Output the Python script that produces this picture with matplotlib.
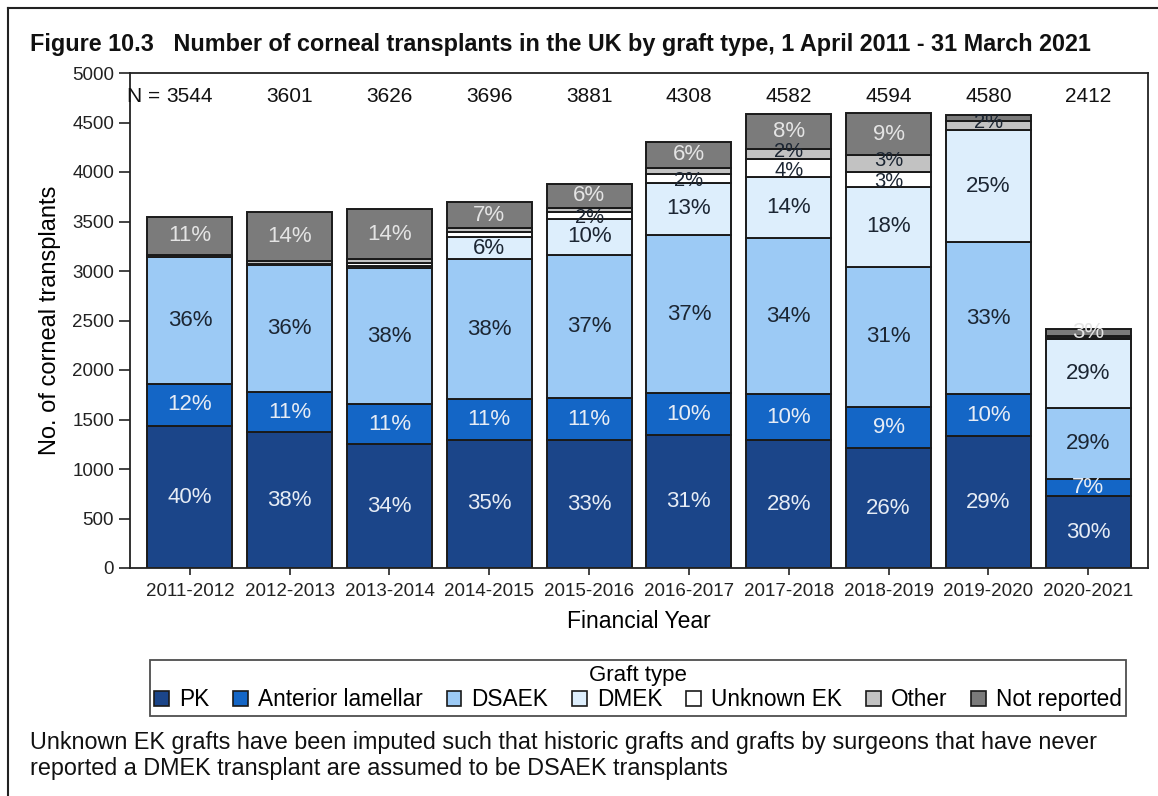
import matplotlib
matplotlib.use("Agg")
import matplotlib.pyplot as plt
from matplotlib.patches import Patch
from matplotlib.lines import Line2D
import numpy as np

plt.rcParams['font.family'] = ['Liberation Sans', 'DejaVu Sans']

years = ["2011-2012", "2012-2013", "2013-2014", "2014-2015", "2015-2016",
         "2016-2017", "2017-2018", "2018-2019", "2019-2020", "2020-2021"]
totals = [3544, 3601, 3626, 3696, 3881, 4308, 4582, 4594, 4580, 2412]

pk      = [1434, 1372, 1250, 1294, 1290, 1340, 1290, 1210, 1330, 727]
ant_lam = [425, 404, 405, 410, 430, 428, 465, 416, 428, 169]
dsaek   = [1282, 1280, 1375, 1415, 1440, 1595, 1578, 1418, 1530, 720]
dmek    = [0, 5, 20, 222, 370, 530, 620, 801, 1135, 694]
unk_ek  = [5, 5, 30, 55, 70, 85, 175, 158, 5, 10]
other   = [20, 30, 38, 35, 40, 60, 100, 169, 90, 25]
not_rep = [378, 505, 508, 265, 241, 270, 354, 422, 62, 67]

lab_pk      = ["40%", "38%", "34%", "35%", "33%", "31%", "28%", "26%", "29%", "30%"]
lab_ant_lam = ["12%", "11%", "11%", "11%", "11%", "10%", "10%", "9%", "10%", "7%"]
lab_dsaek   = ["36%", "36%", "38%", "38%", "37%", "37%", "34%", "31%", "33%", "29%"]
lab_dmek    = ["", "", "", "6%", "10%", "13%", "14%", "18%", "25%", "29%"]
lab_unk_ek  = ["", "", "", "", "2%", "2%", "4%", "3%", "", ""]
lab_other   = ["", "", "", "", "", "", "2%", "3%", "2%", ""]
lab_not_rep = ["11%", "14%", "14%", "7%", "6%", "6%", "8%", "9%", "", "3%"]

names = ["PK", "Anterior lamellar", "DSAEK", "DMEK", "Unknown EK", "Other", "Not reported"]
series = [pk, ant_lam, dsaek, dmek, unk_ek, other, not_rep]
labels = [lab_pk, lab_ant_lam, lab_dsaek, lab_dmek, lab_unk_ek, lab_other, lab_not_rep]
colors = ["#1b4589", "#1466c6", "#9ccaf5", "#ddeefc", "#ffffff", "#c2c2c2", "#7b7b7b"]
txt_colors = ["#e6ecf5", "#e6ecf5", "#1c2633", "#1c2633", "#1c2633", "#1c2633", "#e4e4e4"]
txt_sizes = [16, 16, 16, 16, 14.5, 14.5, 16]
txt_nudge = [0, 0, 0, 0, -25, 25, 0]

fig = plt.figure(figsize=(11.58, 7.96), dpi=100)
ax = fig.add_axes([130/1158, 1-568/796, (1148-130)/1158, (568-73)/796])

x = np.arange(len(years))
bottom = np.zeros(len(years))
for vals, col in zip(series, colors):
    v = np.array(vals, dtype=float)
    ax.bar(x, v, width=0.85, bottom=bottom, color=col, edgecolor="#1a1a1a",
           linewidth=1.4, zorder=2)
    bottom += v

bottom = np.zeros(len(years))
for vals, labs, tc, fs, nd in zip(series, labels, txt_colors, txt_sizes, txt_nudge):
    v = np.array(vals, dtype=float)
    for i in range(len(years)):
        if labs[i]:
            ax.text(x[i], bottom[i] + v[i] / 2 + nd, labs[i], ha="center", va="center",
                    fontsize=fs, color=tc, zorder=3)
    bottom += v

for i, n in enumerate(totals):
    ax.text(x[i], 4760, str(n), ha="center", va="center", fontsize=15, color="#111111")
ax.text(x[0] - 0.24, 4760, "N = ", ha="right", va="center", fontsize=15, color="#111111")

ax.set_xlim(-0.6, 9.6)
ax.set_ylim(0, 5000)
ax.set_yticks(np.arange(0, 5001, 500))
ax.set_xticks(x)
ax.set_xticklabels(years)
ax.tick_params(axis="both", labelsize=13.5, colors="#222222", length=8, width=1.2)
ax.tick_params(axis="x", length=5, pad=6)
for s in ax.spines.values():
    s.set_linewidth(1.3)
    s.set_color("#222222")
ax.set_ylabel("No. of corneal transplants", fontsize=17, labelpad=8)
ax.set_xlabel("Financial Year", fontsize=16.5, labelpad=7)

handles = [Patch(facecolor=c, edgecolor="#1a1a1a", linewidth=1.2) for c in colors]
leg = fig.legend(handles, names, loc="center", bbox_to_anchor=(638/1158, 1-688/796),
                 ncol=7, title="Graft type", fontsize=16.3, title_fontsize=16,
                 frameon=True, fancybox=False, edgecolor="#222222",
                 handlelength=0.65, handleheight=0.65, handletextpad=0.45,
                 columnspacing=1.05, borderpad=0.2, labelspacing=0.1, borderaxespad=0)
leg.get_frame().set_linewidth(1.3)

fig.text(30/1158, 1-45/796,
         "Figure 10.3   Number of corneal transplants in the UK by graft type, 1 April 2011 - 31 March 2021",
         fontsize=16.8, fontweight="bold", ha="left", va="center", color="#111111")
fig.text(30/1158, 1-743/796,
         "Unknown EK grafts have been imputed such that historic grafts and grafts by surgeons that have never",
         fontsize=16.8, ha="left", va="center", color="#111111")
fig.text(30/1158, 1-768/796,
         "reported a DMEK transplant are assumed to be DSAEK transplants",
         fontsize=16.8, ha="left", va="center", color="#111111")

fig.add_artist(Line2D([8/1158, 1.0], [1-8/796, 1-8/796], transform=fig.transFigure,
                      color="#222222", linewidth=1.5))
fig.add_artist(Line2D([8/1158, 8/1158], [0.0, 1-8/796], transform=fig.transFigure,
                      color="#222222", linewidth=1.5))

fig.savefig("out.png", dpi=100)
